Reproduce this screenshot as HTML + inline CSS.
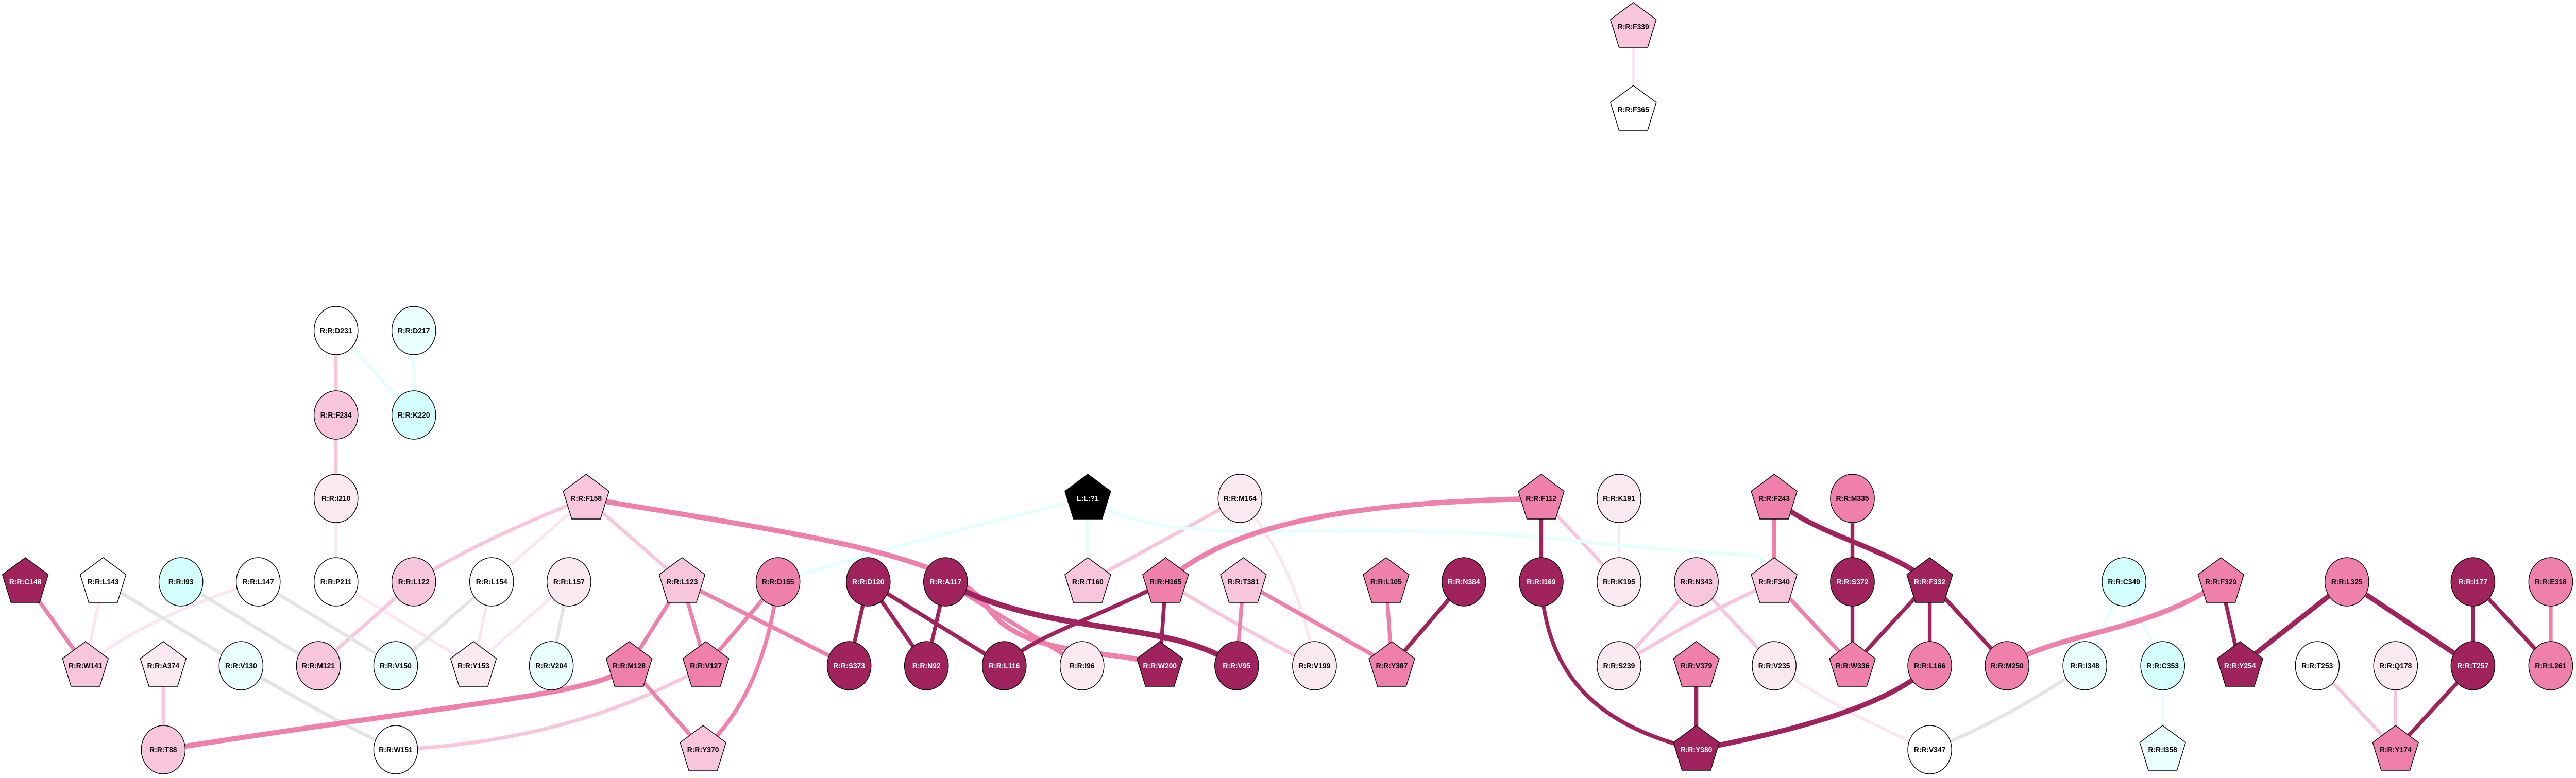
<!DOCTYPE html>
<html><head><meta charset="utf-8"><style>
html,body{margin:0;padding:0;background:#fff;width:100vw;height:100vh;overflow:hidden;}
svg{display:block;position:absolute;left:0;top:0;width:100vw;height:100vh;}
text{font-family:"Liberation Sans",sans-serif;font-weight:bold;font-size:15px;text-anchor:middle;}
.s{stroke:#000;stroke-width:1.5;}
</style></head><body>
<svg viewBox="0 0 5397 1511" preserveAspectRatio="none" xmlns="http://www.w3.org/2000/svg">
<defs>
<polygon id="pg" points="0,-47 48,-14 30,40 -30,40 -48,-14"/>
</defs>
<g fill="none" stroke-linecap="round">
<g stroke="#fbe5f0" stroke-width="6">
<line x1="3422" y1="52" x2="3422" y2="213"/>
<line x1="704" y1="968" x2="704" y2="1130"/>
<line x1="1228" y1="968" x2="1030" y2="1130"/>
<line x1="216" y1="1130" x2="179" y2="1293"/>
<path d="M541,1130 Q300,1200 179,1293"/>
<line x1="704" y1="1130" x2="992" y2="1293"/>
<line x1="1030" y1="1130" x2="992" y2="1293"/>
<line x1="1192" y1="1130" x2="992" y2="1293"/>
<path d="M2598,968 Q2720,1100 2754,1293"/>
<line x1="3392" y1="968" x2="3392" y2="1130"/>
<path d="M3717,1293 Q3850,1380 4043,1456"/>
</g>
<g stroke="#f8c6dc" stroke-width="7">
<line x1="704" y1="642" x2="704" y2="806"/>
<line x1="704" y1="806" x2="704" y2="968"/>
<path d="M1228,968 Q1000,1050 867,1130"/>
<line x1="1228" y1="968" x2="1429" y2="1130"/>
<line x1="867" y1="1130" x2="667" y2="1293"/>
<line x1="342" y1="1293" x2="342" y2="1456"/>
<path d="M1479,1293 Q1200,1440 829,1456"/>
<line x1="2598" y1="968" x2="2279" y2="1130"/>
<path d="M2442,1130 Q2600,1220 2754,1293"/>
<line x1="3229" y1="968" x2="3392" y2="1130"/>
<line x1="3554" y1="1130" x2="3392" y2="1293"/>
<path d="M3717,1130 Q3550,1200 3392,1293"/>
<line x1="3554" y1="1130" x2="3717" y2="1293"/>
<line x1="4855" y1="1293" x2="5019" y2="1456"/>
<line x1="5019" y1="1293" x2="5019" y2="1456"/>
</g>
<g stroke="#e4e4e4" stroke-width="7">
<line x1="216" y1="1130" x2="505" y2="1293"/>
<line x1="379" y1="1130" x2="667" y2="1293"/>
<line x1="541" y1="1130" x2="829" y2="1293"/>
<line x1="1030" y1="1130" x2="829" y2="1293"/>
<line x1="1192" y1="1130" x2="1155" y2="1293"/>
<path d="M505,1293 Q700,1400 829,1456"/>
<path d="M4368,1293 Q4200,1400 4043,1456"/>
</g>
<g stroke="#e6fffe" stroke-width="7">
<line x1="704" y1="642" x2="867" y2="806"/>
<line x1="867" y1="642" x2="867" y2="806"/>
<line x1="2279" y1="968" x2="2279" y2="1130"/>
<path d="M2279,968 Q1900,1050 1630,1130"/>
<path d="M2279,968 C2450,1080 2800,1000 3300,1050 S3650,1050 3717,1130"/>
<line x1="4450" y1="1130" x2="4368" y2="1293"/>
<line x1="4450" y1="1130" x2="4531" y2="1293"/>
<line x1="4531" y1="1293" x2="4531" y2="1456"/>
</g>
<g stroke="#ef7fab" stroke-width="8">
<line x1="53" y1="1130" x2="179" y2="1293"/>
<path d="M1228,968 C1700,1040 2000,1080 2070,1180 S2350,1260 2430,1293" stroke-width="10"/>
<line x1="1429" y1="1130" x2="1318" y2="1293"/>
<line x1="1429" y1="1130" x2="1479" y2="1293"/>
<line x1="1429" y1="1130" x2="1779" y2="1293"/>
<line x1="1630" y1="1130" x2="1479" y2="1293"/>
<path d="M1630,1130 Q1600,1350 1473,1456"/>
<line x1="1318" y1="1293" x2="1473" y2="1456"/>
<path d="M1318,1293 C1250,1350 1000,1360 342,1456" stroke-width="10"/>
<line x1="1981" y1="1130" x2="2267" y2="1293"/>
<path d="M2442,1130 C2600,1000 2900,975 3229,968" stroke-width="10"/>
<line x1="2605" y1="1130" x2="2591" y2="1293"/>
<line x1="2605" y1="1130" x2="2916" y2="1293"/>
<line x1="2904" y1="1130" x2="2916" y2="1293"/>
<line x1="3717" y1="968" x2="3717" y2="1130"/>
<line x1="3717" y1="1130" x2="3881" y2="1293"/>
<path d="M4653,1130 C4500,1230 4300,1230 4205,1293" stroke-width="10"/>
<line x1="5344" y1="1130" x2="5344" y2="1293"/>
</g>
<g stroke="#a0235e" stroke-width="8">
<line x1="1819" y1="1130" x2="1779" y2="1293"/>
<line x1="1819" y1="1130" x2="1941" y2="1293"/>
<line x1="1819" y1="1130" x2="2104" y2="1293"/>
<line x1="1981" y1="1130" x2="1941" y2="1293"/>
<path d="M1981,1130 C2200,1240 2450,1200 2591,1293" stroke-width="11"/>
<path d="M2442,1130 C2300,1200 2150,1240 2104,1293"/>
<line x1="2442" y1="1130" x2="2430" y2="1293"/>
<line x1="3067" y1="1130" x2="2916" y2="1293"/>
<line x1="3229" y1="968" x2="3229" y2="1130"/>
<path d="M3229,1130 C3240,1350 3400,1420 3554,1456"/>
<line x1="3554" y1="1293" x2="3554" y2="1456"/>
<path d="M4043,1293 C3950,1380 3700,1430 3554,1456" stroke-width="10"/>
<path d="M3717,968 C3800,1040 3950,1060 4043,1130" stroke-width="10"/>
<line x1="3881" y1="968" x2="3881" y2="1130"/>
<line x1="3881" y1="1130" x2="3881" y2="1293"/>
<line x1="4043" y1="1130" x2="3881" y2="1293"/>
<line x1="4043" y1="1130" x2="4043" y2="1293"/>
<line x1="4043" y1="1130" x2="4205" y2="1293"/>
<line x1="4653" y1="1130" x2="4693" y2="1293"/>
<line x1="4917" y1="1130" x2="4693" y2="1293" stroke-width="10"/>
<line x1="4917" y1="1130" x2="5181" y2="1293" stroke-width="10"/>
<line x1="5181" y1="1130" x2="5181" y2="1293"/>
<line x1="5181" y1="1130" x2="5344" y2="1293"/>
<line x1="5181" y1="1293" x2="5019" y2="1456"/>
</g>
</g>

<g class="s">
<use href="#pg" x="3422" y="52" fill="#f8c6dc"/>
<use href="#pg" x="3422" y="213" fill="#fff"/>
<use href="#pg" x="1228" y="968" fill="#f8c6dc"/>
<use href="#pg" x="2279" y="968" fill="#000"/>
<use href="#pg" x="3229" y="968" fill="#ef7fab"/>
<use href="#pg" x="3717" y="968" fill="#ef7fab"/>
<use href="#pg" x="53" y="1130" fill="#a0235e"/>
<use href="#pg" x="216" y="1130" fill="#fff"/>
<use href="#pg" x="1429" y="1130" fill="#f8c6dc"/>
<use href="#pg" x="2279" y="1130" fill="#f8c6dc"/>
<use href="#pg" x="2442" y="1130" fill="#ef7fab"/>
<use href="#pg" x="2605" y="1130" fill="#f8c6dc"/>
<use href="#pg" x="2904" y="1130" fill="#ef7fab"/>
<use href="#pg" x="3717" y="1130" fill="#f8c6dc"/>
<use href="#pg" x="4043" y="1130" fill="#a0235e"/>
<use href="#pg" x="4653" y="1130" fill="#ef7fab"/>
<use href="#pg" x="179" y="1293" fill="#f8c6dc"/>
<use href="#pg" x="342" y="1293" fill="#fbe9f2"/>
<use href="#pg" x="992" y="1293" fill="#fbe9f2"/>
<use href="#pg" x="1318" y="1293" fill="#ef7fab"/>
<use href="#pg" x="1479" y="1293" fill="#ef7fab"/>
<use href="#pg" x="2430" y="1293" fill="#a0235e"/>
<use href="#pg" x="2916" y="1293" fill="#ef7fab"/>
<use href="#pg" x="3554" y="1293" fill="#ef7fab"/>
<use href="#pg" x="3881" y="1293" fill="#ef7fab"/>
<use href="#pg" x="4693" y="1293" fill="#a0235e"/>
<use href="#pg" x="1473" y="1456" fill="#f8c6dc"/>
<use href="#pg" x="3554" y="1456" fill="#a0235e"/>
<use href="#pg" x="4531" y="1456" fill="#e8fffd"/>
<use href="#pg" x="5019" y="1456" fill="#ef7fab"/>
<ellipse cx="704" cy="642" rx="46" ry="47" fill="#fff"/>
<ellipse cx="867" cy="642" rx="46" ry="47" fill="#e8fffd"/>
<ellipse cx="704" cy="806" rx="46" ry="47" fill="#f8c6dc"/>
<ellipse cx="867" cy="806" rx="46" ry="47" fill="#d4ffff"/>
<ellipse cx="704" cy="968" rx="46" ry="47" fill="#fbe9f2"/>
<ellipse cx="2598" cy="968" rx="46" ry="47" fill="#fbe9f2"/>
<ellipse cx="3392" cy="968" rx="46" ry="47" fill="#fbe9f2"/>
<ellipse cx="3881" cy="968" rx="46" ry="47" fill="#ef7fab"/>
<ellipse cx="379" cy="1130" rx="46" ry="47" fill="#d4ffff"/>
<ellipse cx="541" cy="1130" rx="46" ry="47" fill="#fff"/>
<ellipse cx="704" cy="1130" rx="46" ry="47" fill="#fff"/>
<ellipse cx="867" cy="1130" rx="46" ry="47" fill="#f8c6dc"/>
<ellipse cx="1030" cy="1130" rx="46" ry="47" fill="#fff"/>
<ellipse cx="1192" cy="1130" rx="46" ry="47" fill="#fbe9f2"/>
<ellipse cx="1630" cy="1130" rx="46" ry="47" fill="#ef7fab"/>
<ellipse cx="1819" cy="1130" rx="46" ry="47" fill="#a0235e"/>
<ellipse cx="1981" cy="1130" rx="46" ry="47" fill="#a0235e"/>
<ellipse cx="3067" cy="1130" rx="46" ry="47" fill="#a0235e"/>
<ellipse cx="3229" cy="1130" rx="46" ry="47" fill="#a0235e"/>
<ellipse cx="3392" cy="1130" rx="46" ry="47" fill="#fbe9f2"/>
<ellipse cx="3554" cy="1130" rx="46" ry="47" fill="#f8c6dc"/>
<ellipse cx="3881" cy="1130" rx="46" ry="47" fill="#a0235e"/>
<ellipse cx="4450" cy="1130" rx="46" ry="47" fill="#d4ffff"/>
<ellipse cx="4917" cy="1130" rx="46" ry="47" fill="#ef7fab"/>
<ellipse cx="5181" cy="1130" rx="46" ry="47" fill="#a0235e"/>
<ellipse cx="5344" cy="1130" rx="46" ry="47" fill="#ef7fab"/>
<ellipse cx="505" cy="1293" rx="46" ry="47" fill="#e8fffd"/>
<ellipse cx="667" cy="1293" rx="46" ry="47" fill="#f8c6dc"/>
<ellipse cx="829" cy="1293" rx="46" ry="47" fill="#e8fffd"/>
<ellipse cx="1155" cy="1293" rx="46" ry="47" fill="#e8fffd"/>
<ellipse cx="1779" cy="1293" rx="46" ry="47" fill="#a0235e"/>
<ellipse cx="1941" cy="1293" rx="46" ry="47" fill="#a0235e"/>
<ellipse cx="2104" cy="1293" rx="46" ry="47" fill="#a0235e"/>
<ellipse cx="2267" cy="1293" rx="46" ry="47" fill="#fbe9f2"/>
<ellipse cx="2591" cy="1293" rx="46" ry="47" fill="#a0235e"/>
<ellipse cx="2754" cy="1293" rx="46" ry="47" fill="#fbe9f2"/>
<ellipse cx="3392" cy="1293" rx="46" ry="47" fill="#fbe9f2"/>
<ellipse cx="3717" cy="1293" rx="46" ry="47" fill="#fbe9f2"/>
<ellipse cx="4043" cy="1293" rx="46" ry="47" fill="#ef7fab"/>
<ellipse cx="4205" cy="1293" rx="46" ry="47" fill="#ef7fab"/>
<ellipse cx="4368" cy="1293" rx="46" ry="47" fill="#e8fffd"/>
<ellipse cx="4531" cy="1293" rx="46" ry="47" fill="#d4ffff"/>
<ellipse cx="4855" cy="1293" rx="46" ry="47" fill="#fff"/>
<ellipse cx="5019" cy="1293" rx="46" ry="47" fill="#fbe9f2"/>
<ellipse cx="5181" cy="1293" rx="46" ry="47" fill="#a0235e"/>
<ellipse cx="5344" cy="1293" rx="46" ry="47" fill="#ef7fab"/>
<ellipse cx="342" cy="1456" rx="46" ry="47" fill="#f8c6dc"/>
<ellipse cx="829" cy="1456" rx="46" ry="47" fill="#fff"/>
<ellipse cx="4043" cy="1456" rx="46" ry="47" fill="#fff"/>
</g>

<g fill="#000">
<text x="3422" y="57">R:R:F339</text>
<text x="3422" y="218">R:R:F365</text>
<text x="704" y="647">R:R:D231</text>
<text x="867" y="647">R:R:D217</text>
<text x="704" y="811">R:R:F234</text>
<text x="867" y="811">R:R:K220</text>
<text x="704" y="973">R:R:I210</text>
<text x="1228" y="973">R:R:F158</text>
<text x="2598" y="973">R:R:M164</text>
<text x="3229" y="973">R:R:F112</text>
<text x="3392" y="973">R:R:K191</text>
<text x="3717" y="973">R:R:F243</text>
<text x="3881" y="973">R:R:M335</text>
<text x="216" y="1135">R:R:L143</text>
<text x="379" y="1135">R:R:I93</text>
<text x="541" y="1135">R:R:L147</text>
<text x="704" y="1135">R:R:P211</text>
<text x="867" y="1135">R:R:L122</text>
<text x="1030" y="1135">R:R:L154</text>
<text x="1192" y="1135">R:R:L157</text>
<text x="1429" y="1135">R:R:L123</text>
<text x="1630" y="1135">R:R:D155</text>
<text x="2279" y="1135">R:R:T160</text>
<text x="2442" y="1135">R:R:H165</text>
<text x="2605" y="1135">R:R:T381</text>
<text x="2904" y="1135">R:R:L105</text>
<text x="3392" y="1135">R:R:K195</text>
<text x="3554" y="1135">R:R:N343</text>
<text x="3717" y="1135">R:R:F340</text>
<text x="4450" y="1135">R:R:C349</text>
<text x="4653" y="1135">R:R:F329</text>
<text x="4917" y="1135">R:R:L325</text>
<text x="5344" y="1135">R:R:E318</text>
<text x="179" y="1298">R:R:W141</text>
<text x="342" y="1298">R:R:A374</text>
<text x="505" y="1298">R:R:V130</text>
<text x="667" y="1298">R:R:M121</text>
<text x="829" y="1298">R:R:V150</text>
<text x="992" y="1298">R:R:Y153</text>
<text x="1155" y="1298">R:R:V204</text>
<text x="1318" y="1298">R:R:M128</text>
<text x="1479" y="1298">R:R:V127</text>
<text x="2267" y="1298">R:R:I96</text>
<text x="2754" y="1298">R:R:V199</text>
<text x="2916" y="1298">R:R:Y387</text>
<text x="3392" y="1298">R:R:S239</text>
<text x="3554" y="1298">R:R:V379</text>
<text x="3717" y="1298">R:R:V235</text>
<text x="3881" y="1298">R:R:W336</text>
<text x="4043" y="1298">R:R:L166</text>
<text x="4205" y="1298">R:R:M250</text>
<text x="4368" y="1298">R:R:I348</text>
<text x="4531" y="1298">R:R:C353</text>
<text x="4855" y="1298">R:R:T253</text>
<text x="5019" y="1298">R:R:Q178</text>
<text x="5344" y="1298">R:R:L261</text>
<text x="342" y="1461">R:R:T88</text>
<text x="829" y="1461">R:R:W151</text>
<text x="1473" y="1461">R:R:Y370</text>
<text x="4043" y="1461">R:R:V347</text>
<text x="4531" y="1461">R:R:I358</text>
<text x="5019" y="1461">R:R:Y174</text>
</g>
<g fill="#fff">
<text x="2279" y="973">L:L:?1</text>
<text x="53" y="1135">R:R:C148</text>
<text x="1819" y="1135">R:R:D120</text>
<text x="1981" y="1135">R:R:A117</text>
<text x="3067" y="1135">R:R:N384</text>
<text x="3229" y="1135">R:R:I169</text>
<text x="3881" y="1135">R:R:S372</text>
<text x="4043" y="1135">R:R:F332</text>
<text x="5181" y="1135">R:R:I177</text>
<text x="1779" y="1298">R:R:S373</text>
<text x="1941" y="1298">R:R:N92</text>
<text x="2104" y="1298">R:R:L116</text>
<text x="2430" y="1298">R:R:W200</text>
<text x="2591" y="1298">R:R:V95</text>
<text x="4693" y="1298">R:R:Y254</text>
<text x="5181" y="1298">R:R:T257</text>
<text x="3554" y="1461">R:R:Y380</text>
</g>
</svg>
</body></html>
